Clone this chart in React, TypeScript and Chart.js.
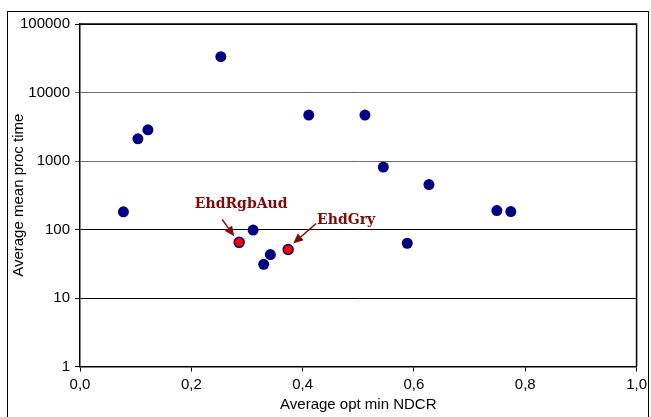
import React, { useEffect, useRef } from "react";
import { Chart, registerables } from "chart.js";

Chart.register(...registerables);

// Blue series: average opt min NDCR vs average mean proc time
const ndcrBlue = [0.078, 0.104, 0.122, 0.253, 0.311, 0.342, 0.330, 0.411, 0.512, 0.545, 0.627, 0.588, 0.749, 0.774];
const timeBlue = [181, 2110, 2850, 33300, 98, 43, 31, 4680, 4680, 814, 453, 63, 189, 183];

// Highlighted (red) systems
const ndcrRed = [0.286, 0.374];
const timeRed = [65, 51];
const redLabels = ["EhdRgbAud", "EhdGry"];

const xTicks = [0, 0.2, 0.4, 0.6, 0.8, 1.0];
const yTicks = [1, 10, 100, 1000, 10000, 100000];

const xTitle = "Average opt min NDCR";
const yTitle = "Average mean proc time";

export default function App() {
  const ref = useRef<HTMLCanvasElement | null>(null);

  useEffect(() => {
    if (!ref.current) return;

    const annotationPlugin = {
      id: "annot",
      afterDatasetsDraw(chart: any) {
        const ctx = chart.ctx;
        const meta = chart.getDatasetMeta(1);
        // offsets relative to the point: text center, arrow start, arrow tip
        const layout = [
          { text: [2, -38], from: [-17, -23], to: [-5, -6] },
          { text: [58, -29], from: [28, -26], to: [5, -6] },
        ];
        ctx.save();
        const color = "#7f0a0a";
        meta.data.forEach((pt: any, i: number) => {
          const L = layout[i];
          const px = pt.x, py = pt.y;
          const x1 = px + L.from[0], y1 = py + L.from[1];
          const x2 = px + L.to[0], y2 = py + L.to[1];
          const ang = Math.atan2(y2 - y1, x2 - x1);
          const head = 10, hw = 4.5;
          const bx = x2 - head * Math.cos(ang), by = y2 - head * Math.sin(ang);
          ctx.strokeStyle = color;
          ctx.fillStyle = color;
          ctx.lineWidth = 1.5;
          ctx.beginPath();
          ctx.moveTo(x1, y1);
          ctx.lineTo(bx, by);
          ctx.stroke();
          ctx.beginPath();
          ctx.moveTo(x2, y2);
          ctx.lineTo(bx + hw * Math.sin(ang), by - hw * Math.cos(ang));
          ctx.lineTo(bx - hw * Math.sin(ang), by + hw * Math.cos(ang));
          ctx.closePath();
          ctx.fill();
          ctx.font = "bold 14px 'DejaVu Serif'";
          ctx.textAlign = "center";
          ctx.textBaseline = "middle";
          ctx.fillText(redLabels[i], px + L.text[0], py + L.text[1]);
        });
        ctx.restore();
      },
    };

    const framePlugin = {
      id: "frame",
      afterDraw(chart: any) {
        const ctx = chart.ctx;
        const a = chart.chartArea;
        ctx.save();
        ctx.strokeStyle = "#000";
        ctx.lineWidth = 1;
        ctx.strokeRect(7.5, 11.5, 641, 420);
        ctx.lineWidth = 1.5;
        ctx.beginPath();
        ctx.moveTo(a.left, a.top);
        ctx.lineTo(a.right, a.top);
        ctx.lineTo(a.right, a.bottom);
        ctx.stroke();
        ctx.restore();
      },
    };

    const chart = new Chart(ref.current, {
      type: "scatter",
      data: {
        datasets: [
          {
            data: ndcrBlue.map((x, i) => ({ x, y: timeBlue[i] })),
            backgroundColor: "#000080",
            borderColor: "#000080",
            borderWidth: 0,
            pointRadius: 5.5,
          },
          {
            data: ndcrRed.map((x, i) => ({ x, y: timeRed[i] })),
            backgroundColor: "#ff0000",
            borderColor: "#000080",
            borderWidth: 1.5,
            pointRadius: 5,
          },
        ],
      },
      options: {
        responsive: false,
        animation: false,
        layout: { padding: { top: 24, right: 13, bottom: 0, left: 0 } },
        plugins: { legend: { display: false }, tooltip: { enabled: false } },
        scales: {
          x: {
            type: "linear",
            min: 0,
            max: 1,
            afterBuildTicks: (s: any) => {
              s.ticks = xTicks.map((v) => ({ value: v }));
            },
            afterFit: (s: any) => {
              s.height = 50.5;
            },
            ticks: {
              color: "#000",
              font: { family: "'Liberation Sans', Arial", size: 15 },
              padding: 4,
              maxRotation: 0,
              callback: (v: any) => Number(v).toFixed(1).replace(".", ","),
            },
            grid: { drawOnChartArea: false, drawTicks: true, tickLength: 5, color: "#000" },
            border: { color: "#000", width: 1.5 },
            title: {
              display: true,
              text: xTitle,
              color: "#000",
              font: { family: "'Liberation Sans', Arial", size: 15 },
              padding: { top: 0, bottom: 3 },
            },
          },
          y: {
            type: "logarithmic",
            min: 1,
            max: 100000,
            afterBuildTicks: (s: any) => {
              s.ticks = yTicks.map((v) => ({ value: v, major: true }));
            },
            afterFit: (s: any) => {
              s.width = 80;
            },
            ticks: {
              color: "#000",
              font: { family: "'Liberation Sans', Arial", size: 15 },
              padding: 5,
              callback: (v: any) => String(v),
            },
            grid: {
              tickLength: 5,
              color: (c: any) => (c.tick && (c.tick.value === 1000 || c.tick.value === 10000) ? "#6a6a6a" : "#000"),
              lineWidth: 1,
            },
            border: { color: "#000", width: 1.5 },
            title: {
              display: true,
              text: yTitle,
              color: "#000",
              font: { family: "'Liberation Sans', Arial", size: 15 },
              padding: { top: 10, bottom: 0 },
            },
          },
        },
      },
      plugins: [annotationPlugin, framePlugin],
    } as any);

    return () => chart.destroy();
  }, []);

  return (
    <div style={{ position: "fixed", left: 0, top: 0, width: 651, height: 417, background: "#fff" }}>
      <canvas ref={ref} width={651} height={417} style={{ display: "block" }} />
    </div>
  );
}
